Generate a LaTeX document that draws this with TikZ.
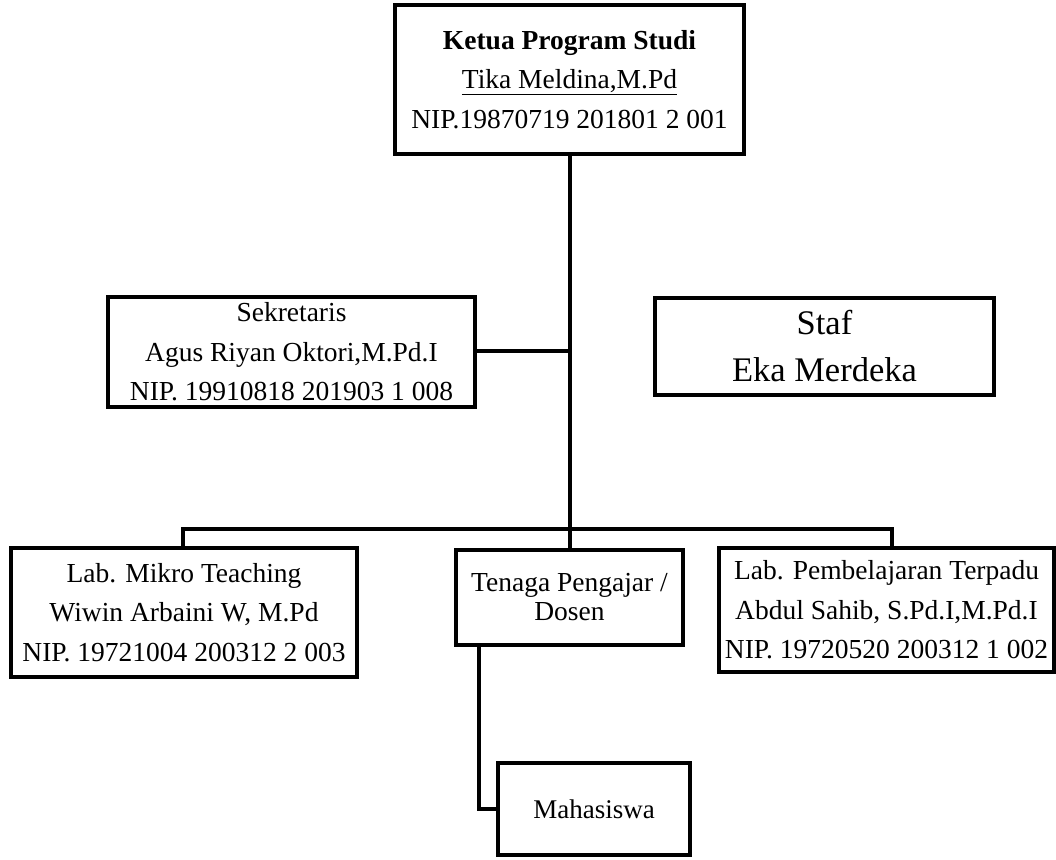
\documentclass[tikz,border=0pt]{standalone}
\usepackage{fontspec}
\setmainfont{Liberation Serif}
\begin{document}
\begin{tikzpicture}[x=1pt,y=-1pt,
  orgbox/.style={draw=black,line width=4pt,fill=white,inner sep=0pt,align=center,
    font=\fontsize{27.5}{39.5}\selectfont},
  link/.style={draw=black,line width=4.5pt}]
\useasboundingbox (0,0) rectangle (1056,859);
% nodes
\node[orgbox,minimum width=349pt,minimum height=149pt] (ketua) at (569.5,79.5)
  {\textbf{Ketua Program Studi}\\\underline{Tika Meldina,M.Pd}\\NIP.19870719 201801 2 001};
\node[orgbox,minimum width=367pt,minimum height=110pt] (sekr) at (291.5,352)
  {Sekretaris\\Agus Riyan Oktori,M.Pd.I\\NIP. 19910818 201903 1 008};
\node[orgbox,minimum width=339pt,minimum height=97pt,font=\fontsize{34.5}{47}\selectfont] (staf) at (824.5,346.5)
  {Staf\\Eka Merdeka};
\node[orgbox,minimum width=346pt,minimum height=129pt] (mikro) at (184,612.5)
  {Lab. Mikro Teaching\\Wiwin Arbaini W, M.Pd\\NIP. 19721004 200312 2 003};
\node[orgbox,minimum width=227pt,minimum height=95pt,font=\fontsize{27.5}{29}\selectfont] (tenaga) at (569.5,597.5)
  {Tenaga Pengajar /\\Dosen};
\node[orgbox,minimum width=335pt,minimum height=124pt] (pemb) at (886.5,610)
  {Lab. Pembelajaran Terpadu\\Abdul Sahib, S.Pd.I,M.Pd.I\\NIP. 19720520 200312 1 002};
\node[orgbox,minimum width=192pt,minimum height=92pt,font=\fontsize{27}{39}\selectfont] (maha) at (594,809)
  {Mahasiswa};
% connector coordinates
\coordinate (bar) at (570,529);
\coordinate (bl) at (183,529);
\coordinate (br) at (892,529);
\coordinate (sj) at (570,351);
\coordinate (td) at (479,0);
% connectors
\draw[link] (ketua.south -| bar) -- (bar);
\draw[link] (sekr.east |- sj) -- (sj);
\draw[link] (mikro.north -| bl) -- (bl) -- (br) -- (pemb.north -| br);
\draw[link] (bar) -- (tenaga.north -| bar);
\draw[link] (tenaga.south -| td) |- (maha.west);
\end{tikzpicture}
\end{document}
